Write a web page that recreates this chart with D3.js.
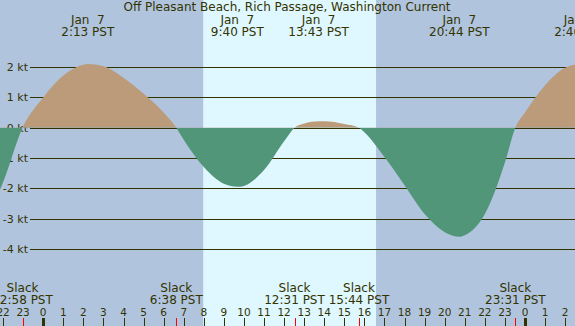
<!DOCTYPE html>
<html>
<head>
<meta charset="utf-8">
<script src="https://cdn.jsdelivr.net/npm/d3@7"></script>
<style>
  body { margin: 0; padding: 0; background: #b0c4de; }
  svg { display: block; }
  text { font-family: "DejaVu Sans", sans-serif; fill: #333300; white-space: pre; }
  line { shape-rendering: crispEdges; }
</style>
</head>
<body>
<svg id="chart"></svg>
<script>
// hours relative to 0:00 Jan 7, current in knots
const hours = [-4, -3, -2, -1.03, 0, 1, 2, 2.22, 3, 4, 5, 6, 6.63, 7, 8, 9, 9.67, 10, 11, 12, 12.52,
  13, 13.72, 14, 15, 15.73, 16, 17, 18, 19, 20, 20.73, 21, 22, 23, 23.52, 24, 25, 26, 26.77, 27.5];
const knots = [-3.6, -3.2, -1.8, 0, 1.0, 1.72, 2.08, 2.1, 2.03, 1.65, 1.12, 0.5, 0, -0.4, -1.3, -1.85, -1.95, -1.92, -1.4, -0.45, 0,
  0.14, 0.21, 0.21, 0.12, 0, -0.15, -0.97, -1.9, -2.85, -3.45, -3.6, -3.55, -2.85, -1.15, 0, 0.5, 1.4, 1.98, 2.1, 2.0];

const maxTimes = [2.22, 9.67, 13.72, 20.73, 26.77];
const maxDates = ["Jan  7", "Jan  7", "Jan  7", "Jan  7", "Jan  8"];
const maxLabels = ["2:13 PST", "9:40 PST", "13:43 PST", "20:44 PST", "2:46 PST"];

const slackTimes = [-1.03, 6.63, 12.52, 15.73, 23.52];
const slackLabels = ["22:58 PST", "6:38 PST", "12:31 PST", "15:44 PST", "23:31 PST"];

const ktTicks = [2, 1, 0, -1, -2, -3, -4];
const sunrise = 7.97, sunset = 16.58;
const title = "Off Pleasant Beach, Rich Passage, Washington Current";

const W = 575, H = 326;
const svg = d3.select("#chart").attr("width", W).attr("height", H);

const x = d3.scaleLinear().domain([0, 24]).range([43.2, 525]);
const y = d3.scaleLinear().domain([0, 2]).range([127.7, 67.1]);

// night / day background
svg.append("rect").attr("width", W).attr("height", H).attr("fill", "#b0c4de");
svg.append("rect")
  .attr("x", x(sunrise)).attr("y", 0)
  .attr("width", x(sunset) - x(sunrise)).attr("height", H)
  .attr("fill", "#dff7ff");

// grid lines + kt labels
svg.selectAll(".grid").data(ktTicks).join("line")
  .attr("x1", 30).attr("x2", W)
  .attr("y1", d => Math.round(y(d)) + 0.5).attr("y2", d => Math.round(y(d)) + 0.5)
  .attr("stroke", "#333300").attr("stroke-width", 1);
svg.selectAll(".ktl").data(ktTicks).join("text")
  .attr("x", 28).attr("y", d => y(d) + 4)
  .attr("text-anchor", "end").attr("font-size", 11)
  .text(d => d + " kt");

// current area, split into flood (above 0) and ebb (below 0)
const pts = hours.map((h, i) => [h, knots[i]]);
const area = d3.area()
  .x(d => x(d[0])).y0(y(0)).y1(d => y(d[1]))
  .curve(d3.curveMonotoneX);

const defs = svg.append("defs");
defs.append("clipPath").attr("id", "above")
  .append("rect").attr("x", 0).attr("y", 0).attr("width", W).attr("height", y(0));
defs.append("clipPath").attr("id", "below")
  .append("rect").attr("x", 0).attr("y", y(0)).attr("width", W).attr("height", H - y(0));

svg.append("path").datum(pts).attr("d", area)
  .attr("fill", "#bc9b7b").attr("clip-path", "url(#above)");
svg.append("path").datum(pts).attr("d", area)
  .attr("fill", "#52967a").attr("clip-path", "url(#below)");

// title
svg.append("text").attr("x", 287).attr("y", 11)
  .attr("text-anchor", "middle").attr("font-size", 12).text(title);

// max current labels
const maxG = svg.selectAll(".mx").data(maxTimes).join("g");
maxG.append("text").attr("x", d => x(d)).attr("y", 24)
  .attr("text-anchor", "middle").attr("font-size", 12)
  .text((d, i) => maxDates[i]);
maxG.append("text").attr("x", d => x(d)).attr("y", 36)
  .attr("text-anchor", "middle").attr("font-size", 12)
  .text((d, i) => maxLabels[i]);

// slack labels
const slackG = svg.selectAll(".sl").data(slackTimes).join("g");
slackG.append("text").attr("x", d => x(d)).attr("y", 292)
  .attr("text-anchor", "middle").attr("font-size", 12).text("Slack");
slackG.append("text").attr("x", d => x(d)).attr("y", 304)
  .attr("text-anchor", "middle").attr("font-size", 12)
  .text((d, i) => slackLabels[i]);

// hour axis
const hourTicks = d3.range(-2, 27);
svg.selectAll(".hl").data(hourTicks).join("text")
  .attr("x", d => x(d)).attr("y", 315.5)
  .attr("text-anchor", "middle").attr("font-size", 10.5)
  .text(d => ((d % 24) + 24) % 24);
svg.selectAll(".ht").data(hourTicks).join("line")
  .attr("x1", d => Math.round(x(d)) + 0.5).attr("x2", d => Math.round(x(d)) + 0.5)
  .attr("y1", 318).attr("y2", H)
  .attr("stroke", "#333300")
  .attr("stroke-width", d => d % 24 === 0 ? 3 : 1);
svg.selectAll(".st").data(slackTimes).join("line")
  .attr("x1", d => Math.round(x(d)) + 0.5).attr("x2", d => Math.round(x(d)) + 0.5)
  .attr("y1", 318).attr("y2", H)
  .attr("stroke", "#ff0000").attr("stroke-width", 1);
</script>
</body>
</html>
